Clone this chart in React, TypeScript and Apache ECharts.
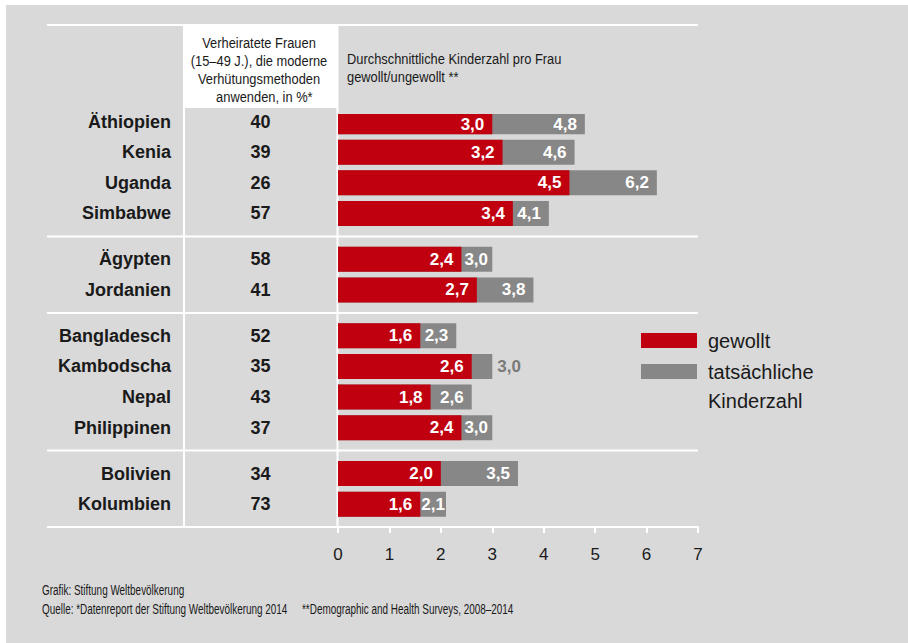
import React, { useEffect, useRef } from "react";
import * as echarts from "echarts";

// ---------- data ----------
const countries = [
  "Äthiopien", "Kenia", "Uganda", "Simbabwe",
  "Ägypten", "Jordanien",
  "Bangladesch", "Kambodscha", "Nepal", "Philippinen",
  "Bolivien", "Kolumbien",
];
const groupSizes = [4, 2, 4, 2];
const usagePct = [40, 39, 26, 57, 58, 41, 52, 35, 43, 37, 34, 73];
const wanted = [3.0, 3.2, 4.5, 3.4, 2.4, 2.7, 1.6, 2.6, 1.8, 2.4, 2.0, 1.6];
const actual = [4.8, 4.6, 6.2, 4.1, 3.0, 3.8, 2.3, 3.0, 2.6, 3.0, 3.5, 2.1];
const seriesNames = ["gewollt", "tatsächliche Kinderzahl"];
const headerLeft = [
  "Verheiratete Frauen",
  "(15–49 J.), die moderne",
  "Verhütungsmethoden",
  "\u00a0\u00a0\u00a0anwenden, in %*",
];
const headerRight = ["Durchschnittliche Kinderzahl pro Frau", "gewollt/ungewollt **"];
const footerLine1 = "Grafik: Stiftung Weltbevölkerung";
const footerLine2a = "Quelle: *Datenreport der Stiftung Weltbevölkerung 2014";
const footerLine2b = "**Demographic and Health Surveys, 2008–2014";

// ---------- layout ----------
const W = 908;
const H = 643;
const GRID_LEFT = 338;
const GRID_RIGHT_X = 698;
const GRID_TOP = 114;
const BAND = 15.3;
const FRAME_LEFT = 47;
const X_MAX = 7;
const PX_PER_UNIT = (GRID_RIGHT_X - GRID_LEFT) / X_MAX;
const RED = "#c0000f";
const GREY = "#878787";
const BG = "#d9d9d9";
const INK = "#1a1a1a";
const FF = '"Liberation Sans", Arial, sans-serif';
const BAR_LABEL_SIZE = 17;
const BAR_LABEL_W = 1.39 * BAR_LABEL_SIZE; // approx. width of "d,d" in bold

// categories with spacer slots
const cats: string[] = [];
const rowOfCat: number[] = [];
const gapBoundaries: number[] = [];
(() => {
  let r = 0;
  const spacer = () => {
    cats.push("_s" + cats.length);
    rowOfCat.push(-1);
  };
  groupSizes.forEach((g, gi) => {
    if (gi > 0) {
      spacer();
      gapBoundaries.push(cats.length);
      spacer();
    }
    for (let k = 0; k < g; k++) {
      if (k > 0) spacer();
      cats.push(countries[r]);
      rowOfCat.push(r);
      r++;
    }
  });
  spacer();
})();
const NCAT = cats.length;
const GRID_BOTTOM_Y = GRID_TOP + NCAT * BAND;

const fmt = (v: number) => v.toFixed(1).replace(".", ",");

export default function App() {
  const ref = useRef<HTMLDivElement>(null);
  useEffect(() => {
    if (!ref.current) return;
    const chart = echarts.init(ref.current, undefined, { renderer: "svg" });

    const redData = rowOfCat.map((r) => (r < 0 ? "-" : wanted[r]));
    const greyData = rowOfCat.map((r) => {
      if (r < 0) return "-";
      const segW = (actual[r] - wanted[r]) * PX_PER_UNIT;
      const room = segW - BAR_LABEL_W;
      if (room < 0) {
        return {
          value: actual[r],
          label: { position: "right", color: "#7a7a7a", distance: 5 },
        };
      }
      const d = Math.max(1, Math.min(8, room - 3));
      return { value: actual[r], label: { distance: d } };
    });

    const lineStyle = { stroke: "#ffffff", lineWidth: 2 };
    const hLine = (y: number, x1: number, x2: number) => ({
      type: "line",
      shape: { x1, y1: y, x2, y2: y },
      style: lineStyle,
      silent: true,
    });
    const vLine = (x: number, y1: number, y2: number) => ({
      type: "line",
      shape: { x1: x, y1, x2: x, y2 },
      style: lineStyle,
      silent: true,
    });
    const txt = (
      text: string,
      x: number,
      y: number,
      size: number,
      sx: number,
      align: string,
      lh?: number
    ) => ({
      type: "text",
      x,
      y,
      scaleX: sx,
      style: {
        text,
        font: `${size}px ${FF}`,
        fill: INK,
        textAlign: align,
        textVerticalAlign: "middle",
        lineHeight: lh,
      },
      silent: true,
    });

    const graphics: any[] = [
      { type: "rect", shape: { x: 6, y: 5, width: W - 6, height: H - 5 }, style: { fill: BG }, z: -10, silent: true },
      { type: "rect", shape: { x: 184, y: 24, width: 153, height: 84 }, style: { fill: "#ffffff" }, z: -9, silent: true },
      hLine(25, FRAME_LEFT, GRID_RIGHT_X),
      hLine(GRID_BOTTOM_Y, FRAME_LEFT, GRID_LEFT),
      ...gapBoundaries.map((i) => hLine(GRID_TOP + i * BAND, FRAME_LEFT, GRID_RIGHT_X)),
      vLine(184, 24, GRID_BOTTOM_Y),
      vLine(GRID_LEFT - 0.5, 24, GRID_BOTTOM_Y),
      txt(headerLeft.join("\n"), 259, 70, 15.5, 0.83, "center", 18),
      txt(headerRight.join("\n"), 347, 67.5, 15.5, 0.83, "left", 18),
      txt(footerLine1, 42, 590, 14, 0.71, "left"),
      txt(footerLine2a, 42, 609, 14, 0.71, "left"),
      txt(footerLine2b, 302, 609, 14, 0.71, "left"),
    ];

    const legendText = {
      fontFamily: FF,
      fontSize: 20,
      color: INK,
      padding: [0, 0, 0, 6],
      lineHeight: 29,
    };

    chart.setOption({
      animation: false,
      backgroundColor: "#ffffff",
      textStyle: { fontFamily: FF },
      graphic: graphics,
      legend: [
        {
          orient: "vertical",
          left: 641,
          top: 326,
          padding: 0,
          itemWidth: 56,
          itemHeight: 15,
          icon: "rect",
          textStyle: legendText,
          data: [seriesNames[0]],
        },
        {
          orient: "vertical",
          left: 641,
          top: 328,
          padding: 0,
          itemWidth: 56,
          itemHeight: 15,
          icon: "rect",
          // leading blank line keeps the first word level with the swatch
          formatter: (name: string) => "\u00a0\n" + name.replace(" ", "\n"),
          textStyle: legendText,
          data: [seriesNames[1]],
        },
      ],
      grid: {
        left: GRID_LEFT,
        top: GRID_TOP,
        width: GRID_RIGHT_X - GRID_LEFT,
        height: NCAT * BAND,
        containLabel: false,
      },
      xAxis: {
        type: "value",
        min: 0,
        max: X_MAX,
        interval: 1,
        axisLine: { show: true, lineStyle: { color: "#ffffff", width: 2 } },
        axisTick: { show: true, length: 6, lineStyle: { color: "#ffffff", width: 2 } },
        splitLine: { show: false },
        axisLabel: { color: INK, fontSize: 17, fontFamily: FF, margin: 19 },
      },
      yAxis: {
        type: "category",
        inverse: true,
        data: cats,
        axisLine: { show: false },
        axisTick: { show: false },
        splitLine: { show: false },
        axisLabel: {
          margin: 1,
          interval: 0,
          formatter: (v: string, idx: number) => {
            const r = rowOfCat[idx];
            if (r < 0) return "";
            return `{n|${v}}{p|${usagePct[r]}}`;
          },
          rich: {
            n: { fontWeight: "bold", fontSize: 18, fontFamily: FF, color: INK },
            p: {
              width: 153,
              align: "center",
              padding: [0, 0, 0, 13],
              fontWeight: "bold",
              fontSize: 18,
              fontFamily: FF,
              color: INK,
            },
          },
        },
      },
      series: [
        {
          name: seriesNames[1],
          type: "bar",
          barWidth: 25,
          barGap: "-100%",
          itemStyle: { color: GREY },
          data: greyData,
          label: {
            show: true,
            position: "insideRight",
            distance: 8,
            color: "#ffffff",
            fontWeight: "bold",
            fontSize: BAR_LABEL_SIZE,
            fontFamily: FF,
            formatter: (p: any) => fmt(Number(p.value)),
          },
          z: 2,
        },
        {
          name: seriesNames[0],
          type: "bar",
          barWidth: 25,
          barGap: "-100%",
          itemStyle: { color: RED },
          data: redData,
          label: {
            show: true,
            position: "insideRight",
            distance: 8,
            color: "#ffffff",
            fontWeight: "bold",
            fontSize: BAR_LABEL_SIZE,
            fontFamily: FF,
            formatter: (p: any) => fmt(Number(p.value)),
          },
          z: 3,
        },
      ],
    });

    return () => chart.dispose();
  }, []);

  return (
    <div
      ref={ref}
      style={{ position: "fixed", left: 0, top: 0, width: W, height: H }}
    />
  );
}
